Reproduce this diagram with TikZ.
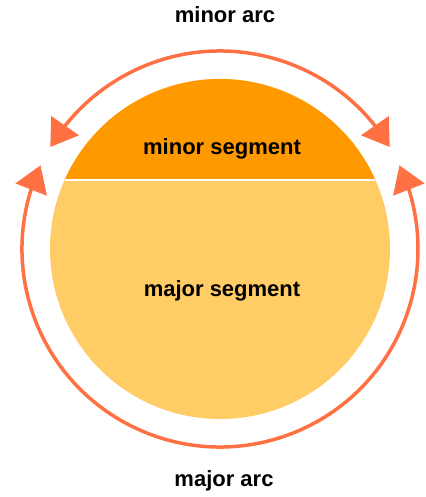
\documentclass[tikz,border=0pt]{standalone}
\usepackage{fontspec}
\setmainfont{Liberation Sans}
\usetikzlibrary{arrows.meta,bending,calc}
\definecolor{minorfill}{RGB}{255,153,0}
\definecolor{majorfill}{RGB}{255,204,102}
\definecolor{arccol}{RGB}{255,112,67}
\tikzset{
  lbl/.style={font=\fontsize{22}{25}\selectfont\bfseries, text=black, anchor=base, inner sep=0pt},
  arcline/.style={draw=arccol, line width=3.5pt},
  bigtip/.tip={Triangle[length=26pt,width=33pt]},
}
\begin{document}
\begin{tikzpicture}[x=1pt,y=1pt]
\useasboundingbox (0,0) rectangle (425,497);
\coordinate (c) at (220,248);
% circle (major segment)
\fill[majorfill] (c) circle[radius=170];
% minor segment
\fill[minorfill] (c) ++(23.9:170) arc[start angle=23.9, end angle=156.1, radius=170] -- cycle;
\coordinate (chl) at ($(c)+(156.1:170)$);
\coordinate (chr) at ($(c)+(23.9:170)$);
\draw[white, line width=2.5pt] (chl) -- (chr);
% minor arc
\draw[arcline, bigtip-bigtip]
  (c) ++(31:198) arc[start angle=31, end angle=149, radius=198];
% major arc
\draw[arcline, bigtip-bigtip]
  (c) ++(155:198) arc[start angle=155, end angle=385, radius=198];
% labels
\node[lbl] (minorarc) at (225,474) {minor arc};
\node[lbl] (minorseg) at (222,342) {minor segment};
\node[lbl] (majorseg) at (222,200) {major segment};
\node[lbl] (majorarc) at (224,10) {major arc};
\end{tikzpicture}
\end{document}
